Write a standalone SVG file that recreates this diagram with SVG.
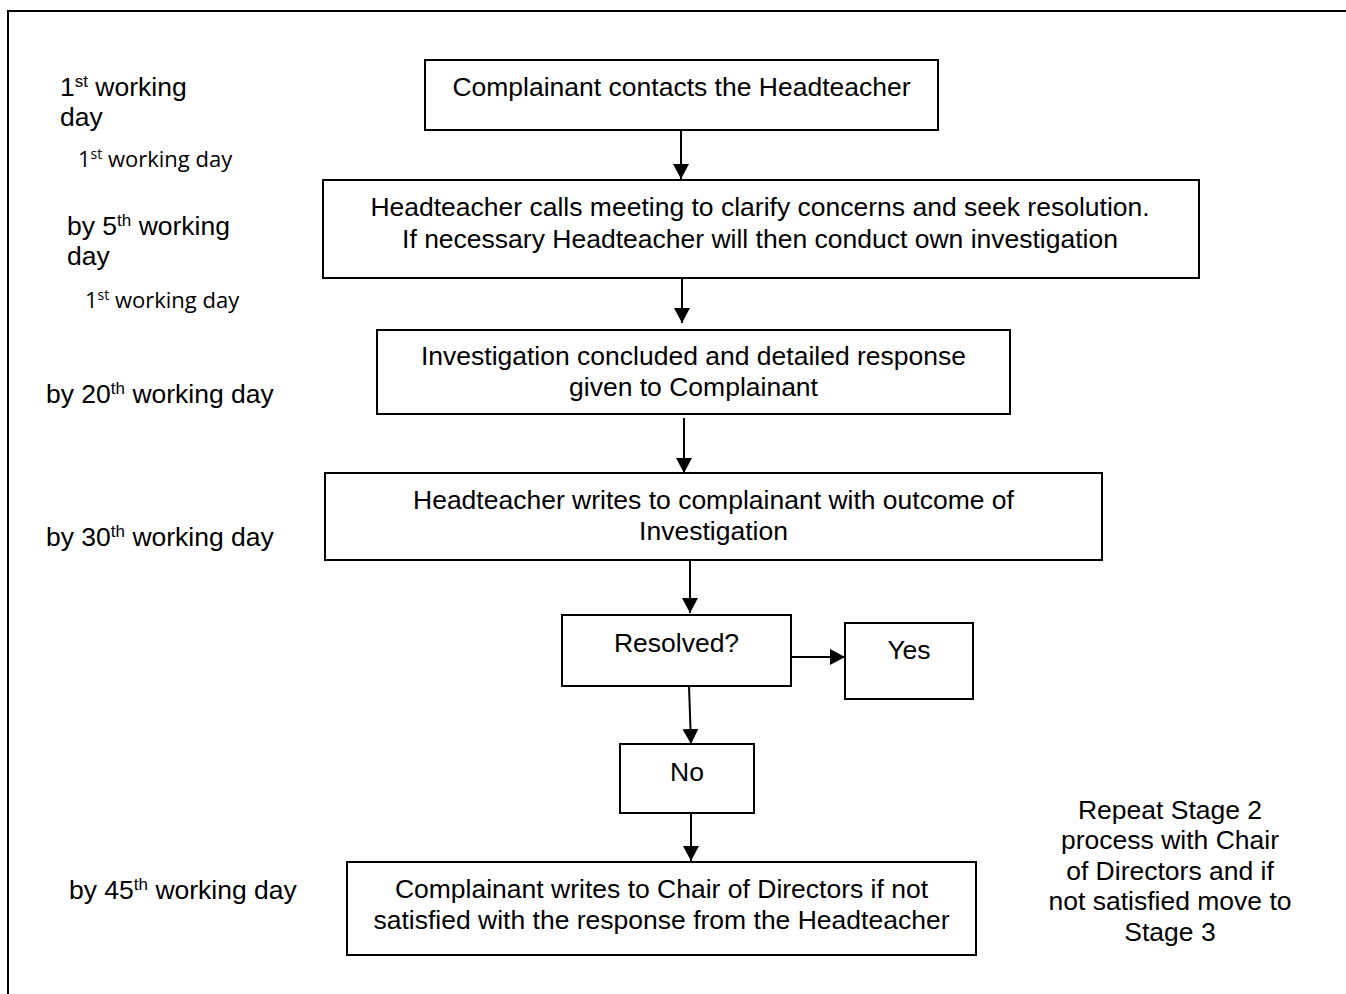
<svg xmlns="http://www.w3.org/2000/svg" width="1346" height="994" viewBox="0 0 1346 994">
<style>
.box{fill:#fff;stroke:#000;stroke-width:2}
.t{font-family:"Liberation Sans",Arial,sans-serif;font-size:26.5px;fill:#000}
.c{text-anchor:middle}
.cal{font-family:"Open Sans","Liberation Sans",sans-serif;font-size:22px;fill:#000}
.ln{stroke:#000;stroke-width:2;fill:none;marker-end:url(#ah)}
</style>
<defs>
<marker id="ah" markerUnits="userSpaceOnUse" markerWidth="16" markerHeight="16" refX="15" refY="8" orient="auto" viewBox="0 0 16 16">
<path d="M0,0 L15,8 L0,16 z" fill="#000"/>
</marker>
</defs>
<rect width="1346" height="994" fill="#fff"/>
<g id="frame"><path d="M8,994 L8,11 L1346,11" fill="none" stroke="#000" stroke-width="2"/></g>

<g id="labels">
<text class="t" x="60" y="96">1<tspan font-size="17" dy="-9">st</tspan><tspan dy="9"> working</tspan></text>
<text class="t" x="60" y="126">day</text>
<text class="cal" x="78" y="167">1<tspan font-size="14" dy="-8">st</tspan><tspan dy="8"> working day</tspan></text>
<text class="t" x="67" y="235">by 5<tspan font-size="17" dy="-9">th</tspan><tspan dy="9"> working</tspan></text>
<text class="t" x="67" y="265">day</text>
<text class="cal" x="85" y="308">1<tspan font-size="14" dy="-8">st</tspan><tspan dy="8"> working day</tspan></text>
<text class="t" x="46" y="403">by 20<tspan font-size="17" dy="-9">th</tspan><tspan dy="9"> working day</tspan></text>
<text class="t" x="46" y="546">by 30<tspan font-size="17" dy="-9">th</tspan><tspan dy="9"> working day</tspan></text>
<text class="t" x="69" y="899">by 45<tspan font-size="17" dy="-9">th</tspan><tspan dy="9"> working day</tspan></text>
<text class="t c" x="1170" y="819">Repeat Stage 2</text>
<text class="t c" x="1170" y="849">process with Chair</text>
<text class="t c" x="1170" y="880">of Directors and if</text>
<text class="t c" x="1170" y="910">not satisfied move to</text>
<text class="t c" x="1170" y="941">Stage 3</text>
</g>

<g id="connectors">
<line class="ln" x1="681" y1="131" x2="681" y2="179"/>
<line class="ln" x1="682" y1="278" x2="682" y2="323"/>
<line class="ln" x1="684" y1="418" x2="684" y2="473"/>
<line class="ln" x1="690" y1="561" x2="690" y2="613"/>
<line class="ln" x1="689" y1="686" x2="691" y2="744"/>
<line class="ln" x1="791" y1="657" x2="845" y2="657"/>
<line class="ln" x1="691" y1="813" x2="691" y2="861"/>
</g>

<g id="n1"><rect class="box" x="425" y="60" width="513" height="70"/>
<text class="t c" x="681.5" y="96">Complainant contacts the Headteacher</text></g>
<g id="n2"><rect class="box" x="323" y="180" width="876" height="98"/>
<text class="t c" x="760" y="216">Headteacher calls meeting to clarify concerns and seek resolution.</text>
<text class="t c" x="760" y="248">If necessary Headteacher will then conduct own investigation</text></g>
<g id="n3"><rect class="box" x="377" y="330" width="633" height="84"/>
<text class="t c" x="693.5" y="365">Investigation concluded and detailed response</text>
<text class="t c" x="693.5" y="396">given to Complainant</text></g>
<g id="n4"><rect class="box" x="325" y="473" width="777" height="87"/>
<text class="t c" x="713.5" y="509">Headteacher writes to complainant with outcome of</text>
<text class="t c" x="713.5" y="540">Investigation</text></g>
<g id="n5"><rect class="box" x="562" y="615" width="229" height="71"/>
<text class="t c" x="676.5" y="652">Resolved?</text></g>
<g id="n6"><rect class="box" x="845" y="623" width="128" height="76"/>
<text class="t c" x="909" y="659">Yes</text></g>
<g id="n7"><rect class="box" x="620" y="744" width="134" height="69"/>
<text class="t c" x="687" y="781">No</text></g>
<g id="n8"><rect class="box" x="347" y="862" width="629" height="93"/>
<text class="t c" x="661.5" y="898">Complainant writes to Chair of Directors if not</text>
<text class="t c" x="661.5" y="929">satisfied with the response from the Headteacher</text></g>
</svg>
